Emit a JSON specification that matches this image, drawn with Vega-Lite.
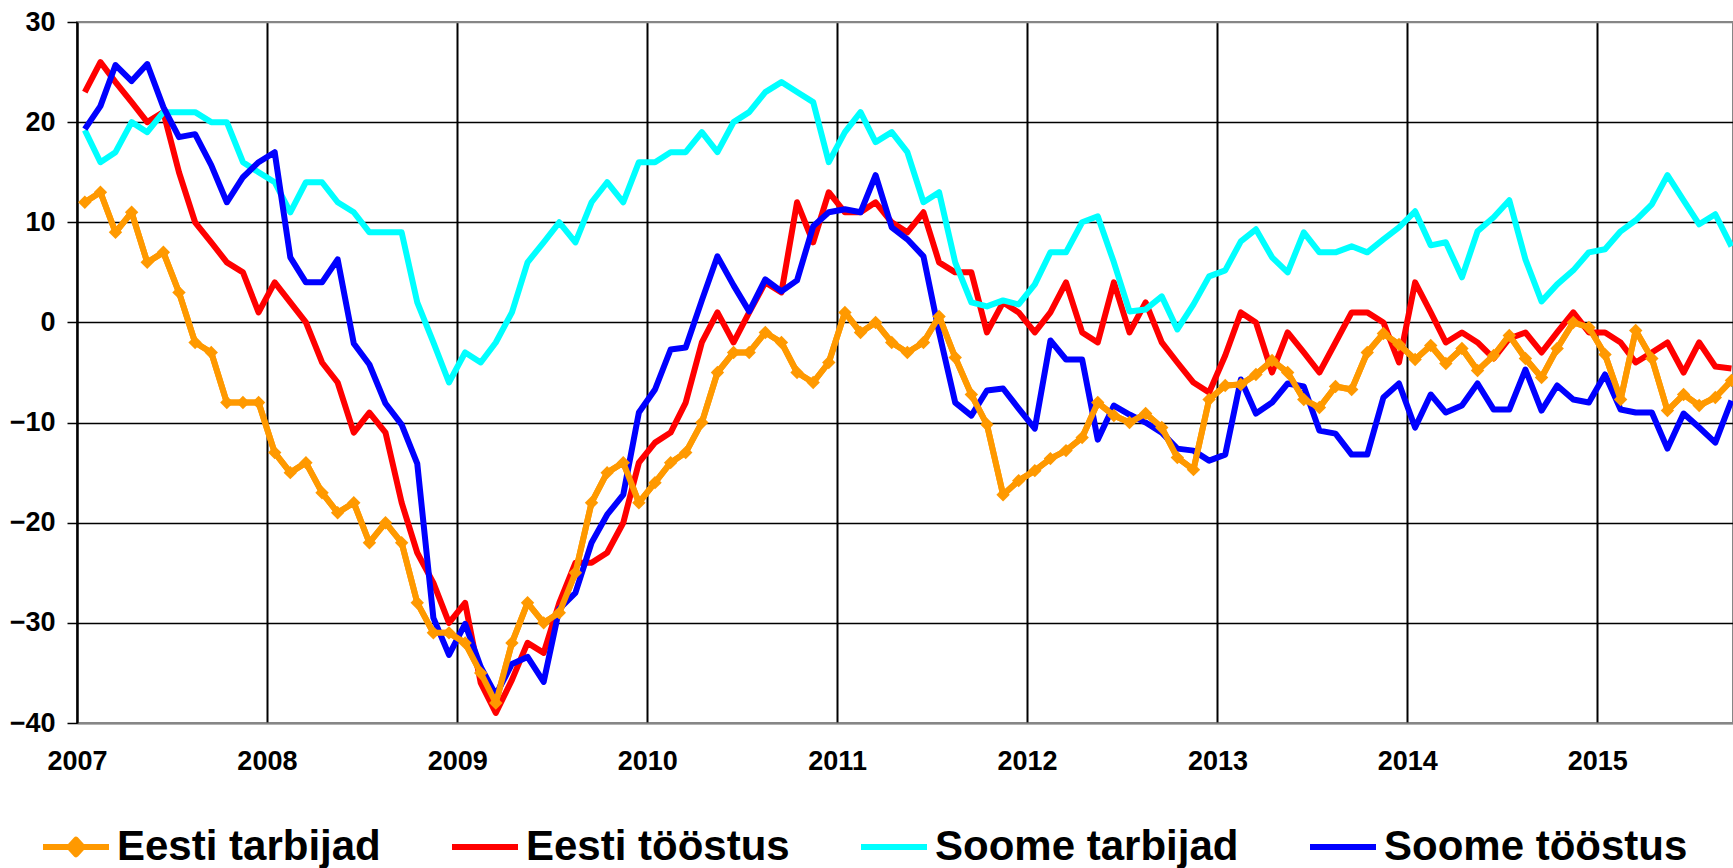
{
  "$schema": "https://vega.github.io/schema/vega-lite/v6.json",
  "width": 1656,
  "height": 701,
  "autosize": {"type": "none"},
  "padding": {"left": 77, "top": 22, "right": 0, "bottom": 145},
  "background": "white",
  "config": {"view": {"stroke": "#868686", "strokeWidth": 2}, "font": "Liberation Sans"},
  "data": {"values": [
    {"d":"2007-01-16","Eesti tarbijad":12,"Eesti tööstus":23,"Soome tarbijad":19.2,"Soome tööstus":19.3},
    {"d":"2007-02-15","Eesti tarbijad":13,"Eesti tööstus":26,"Soome tarbijad":16,"Soome tööstus":21.6},
    {"d":"2007-03-16","Eesti tarbijad":9,"Eesti tööstus":24,"Soome tarbijad":17,"Soome tööstus":25.7},
    {"d":"2007-04-16","Eesti tarbijad":11,"Eesti tööstus":22,"Soome tarbijad":20,"Soome tööstus":24.1},
    {"d":"2007-05-16","Eesti tarbijad":6,"Eesti tööstus":20,"Soome tarbijad":19,"Soome tööstus":25.8},
    {"d":"2007-06-16","Eesti tarbijad":7,"Eesti tööstus":21,"Soome tarbijad":21,"Soome tööstus":21.5},
    {"d":"2007-07-16","Eesti tarbijad":3,"Eesti tööstus":15,"Soome tarbijad":21,"Soome tööstus":18.5},
    {"d":"2007-08-16","Eesti tarbijad":-2,"Eesti tööstus":10,"Soome tarbijad":21,"Soome tööstus":18.8},
    {"d":"2007-09-16","Eesti tarbijad":-3,"Eesti tööstus":8,"Soome tarbijad":20,"Soome tööstus":15.7},
    {"d":"2007-10-16","Eesti tarbijad":-8,"Eesti tööstus":6,"Soome tarbijad":20,"Soome tööstus":12},
    {"d":"2007-11-16","Eesti tarbijad":-8,"Eesti tööstus":5,"Soome tarbijad":16,"Soome tööstus":14.5},
    {"d":"2007-12-16","Eesti tarbijad":-8,"Eesti tööstus":1,"Soome tarbijad":15,"Soome tööstus":16},
    {"d":"2008-01-16","Eesti tarbijad":-13,"Eesti tööstus":4,"Soome tarbijad":14,"Soome tööstus":17},
    {"d":"2008-02-15","Eesti tarbijad":-15,"Eesti tööstus":2,"Soome tarbijad":11,"Soome tööstus":6.5},
    {"d":"2008-03-16","Eesti tarbijad":-14,"Eesti tööstus":0,"Soome tarbijad":14,"Soome tööstus":4},
    {"d":"2008-04-16","Eesti tarbijad":-17,"Eesti tööstus":-4,"Soome tarbijad":14,"Soome tööstus":4},
    {"d":"2008-05-16","Eesti tarbijad":-19,"Eesti tööstus":-6,"Soome tarbijad":12,"Soome tööstus":6.3},
    {"d":"2008-06-16","Eesti tarbijad":-18,"Eesti tööstus":-11,"Soome tarbijad":11,"Soome tööstus":-2.1},
    {"d":"2008-07-16","Eesti tarbijad":-22,"Eesti tööstus":-9,"Soome tarbijad":9,"Soome tööstus":-4.2},
    {"d":"2008-08-16","Eesti tarbijad":-20,"Eesti tööstus":-11,"Soome tarbijad":9,"Soome tööstus":-8.1},
    {"d":"2008-09-16","Eesti tarbijad":-22,"Eesti tööstus":-18,"Soome tarbijad":9,"Soome tööstus":-10.2},
    {"d":"2008-10-16","Eesti tarbijad":-28,"Eesti tööstus":-23,"Soome tarbijad":2,"Soome tööstus":-14.1},
    {"d":"2008-11-16","Eesti tarbijad":-31,"Eesti tööstus":-26,"Soome tarbijad":-2,"Soome tööstus":-29.5},
    {"d":"2008-12-16","Eesti tarbijad":-31,"Eesti tööstus":-30,"Soome tarbijad":-6,"Soome tööstus":-33.2},
    {"d":"2009-01-16","Eesti tarbijad":-32,"Eesti tööstus":-28,"Soome tarbijad":-3,"Soome tööstus":-30.1},
    {"d":"2009-02-15","Eesti tarbijad":-35,"Eesti tööstus":-36,"Soome tarbijad":-4,"Soome tööstus":-34.4},
    {"d":"2009-03-16","Eesti tarbijad":-38,"Eesti tööstus":-39,"Soome tarbijad":-2,"Soome tööstus":-37.2},
    {"d":"2009-04-16","Eesti tarbijad":-32,"Eesti tööstus":-35.7,"Soome tarbijad":1,"Soome tööstus":-34.1},
    {"d":"2009-05-16","Eesti tarbijad":-28,"Eesti tööstus":-32,"Soome tarbijad":6,"Soome tööstus":-33.4},
    {"d":"2009-06-16","Eesti tarbijad":-30,"Eesti tööstus":-33,"Soome tarbijad":8,"Soome tööstus":-35.9},
    {"d":"2009-07-16","Eesti tarbijad":-29,"Eesti tööstus":-28,"Soome tarbijad":10,"Soome tööstus":-28.6},
    {"d":"2009-08-16","Eesti tarbijad":-25,"Eesti tööstus":-24,"Soome tarbijad":8,"Soome tööstus":-27},
    {"d":"2009-09-16","Eesti tarbijad":-18,"Eesti tööstus":-24,"Soome tarbijad":12,"Soome tööstus":-22},
    {"d":"2009-10-16","Eesti tarbijad":-15,"Eesti tööstus":-23,"Soome tarbijad":14,"Soome tööstus":-19.2},
    {"d":"2009-11-16","Eesti tarbijad":-14,"Eesti tööstus":-20,"Soome tarbijad":12,"Soome tööstus":-17.2},
    {"d":"2009-12-16","Eesti tarbijad":-18,"Eesti tööstus":-14,"Soome tarbijad":16,"Soome tööstus":-9},
    {"d":"2010-01-16","Eesti tarbijad":-16,"Eesti tööstus":-12,"Soome tarbijad":16,"Soome tööstus":-6.7},
    {"d":"2010-02-15","Eesti tarbijad":-14,"Eesti tööstus":-11,"Soome tarbijad":17,"Soome tööstus":-2.7},
    {"d":"2010-03-16","Eesti tarbijad":-13,"Eesti tööstus":-8,"Soome tarbijad":17,"Soome tööstus":-2.5},
    {"d":"2010-04-16","Eesti tarbijad":-10,"Eesti tööstus":-2,"Soome tarbijad":19,"Soome tööstus":2.2},
    {"d":"2010-05-16","Eesti tarbijad":-5,"Eesti tööstus":1,"Soome tarbijad":17,"Soome tööstus":6.6},
    {"d":"2010-06-16","Eesti tarbijad":-3,"Eesti tööstus":-2,"Soome tarbijad":20,"Soome tööstus":3.7},
    {"d":"2010-07-16","Eesti tarbijad":-3,"Eesti tööstus":1,"Soome tarbijad":21,"Soome tööstus":1.1},
    {"d":"2010-08-16","Eesti tarbijad":-1,"Eesti tööstus":4,"Soome tarbijad":23,"Soome tööstus":4.3},
    {"d":"2010-09-16","Eesti tarbijad":-2,"Eesti tööstus":3,"Soome tarbijad":24,"Soome tööstus":3.1},
    {"d":"2010-10-16","Eesti tarbijad":-5,"Eesti tööstus":12,"Soome tarbijad":23,"Soome tööstus":4.2},
    {"d":"2010-11-16","Eesti tarbijad":-6,"Eesti tööstus":8,"Soome tarbijad":22,"Soome tööstus":9.6},
    {"d":"2010-12-16","Eesti tarbijad":-4,"Eesti tööstus":13,"Soome tarbijad":16,"Soome tööstus":11},
    {"d":"2011-01-16","Eesti tarbijad":1,"Eesti tööstus":11,"Soome tarbijad":19,"Soome tööstus":11.3},
    {"d":"2011-02-15","Eesti tarbijad":-1,"Eesti tööstus":11,"Soome tarbijad":21,"Soome tööstus":11},
    {"d":"2011-03-16","Eesti tarbijad":0,"Eesti tööstus":12,"Soome tarbijad":18,"Soome tööstus":14.7},
    {"d":"2011-04-16","Eesti tarbijad":-2,"Eesti tööstus":10,"Soome tarbijad":19,"Soome tööstus":9.5},
    {"d":"2011-05-16","Eesti tarbijad":-3,"Eesti tööstus":9,"Soome tarbijad":17,"Soome tööstus":8.3},
    {"d":"2011-06-16","Eesti tarbijad":-2,"Eesti tööstus":11,"Soome tarbijad":12,"Soome tööstus":6.6},
    {"d":"2011-07-16","Eesti tarbijad":0.6,"Eesti tööstus":6,"Soome tarbijad":13,"Soome tööstus":-1},
    {"d":"2011-08-16","Eesti tarbijad":-3.5,"Eesti tööstus":5,"Soome tarbijad":6,"Soome tööstus":-8},
    {"d":"2011-09-16","Eesti tarbijad":-7.2,"Eesti tööstus":5,"Soome tarbijad":2,"Soome tööstus":-9.3},
    {"d":"2011-10-16","Eesti tarbijad":-10.2,"Eesti tööstus":-1,"Soome tarbijad":1.6,"Soome tööstus":-6.8},
    {"d":"2011-11-16","Eesti tarbijad":-17.2,"Eesti tööstus":2,"Soome tarbijad":2.2,"Soome tööstus":-6.6},
    {"d":"2011-12-16","Eesti tarbijad":-15.8,"Eesti tööstus":1,"Soome tarbijad":1.8,"Soome tööstus":-8.6},
    {"d":"2012-01-16","Eesti tarbijad":-14.8,"Eesti tööstus":-1,"Soome tarbijad":3.8,"Soome tööstus":-10.6},
    {"d":"2012-02-15","Eesti tarbijad":-13.6,"Eesti tööstus":1,"Soome tarbijad":7,"Soome tööstus":-1.8},
    {"d":"2012-03-16","Eesti tarbijad":-12.8,"Eesti tööstus":4,"Soome tarbijad":7,"Soome tööstus":-3.7},
    {"d":"2012-04-16","Eesti tarbijad":-11.5,"Eesti tööstus":-1,"Soome tarbijad":10,"Soome tööstus":-3.7},
    {"d":"2012-05-16","Eesti tarbijad":-8,"Eesti tööstus":-2,"Soome tarbijad":10.6,"Soome tööstus":-11.7},
    {"d":"2012-06-16","Eesti tarbijad":-9.3,"Eesti tööstus":4,"Soome tarbijad":6,"Soome tööstus":-8.3},
    {"d":"2012-07-16","Eesti tarbijad":-10,"Eesti tööstus":-1,"Soome tarbijad":1.1,"Soome tööstus":-9.2},
    {"d":"2012-08-16","Eesti tarbijad":-9.1,"Eesti tööstus":2,"Soome tarbijad":1.3,"Soome tööstus":-10},
    {"d":"2012-09-16","Eesti tarbijad":-10.5,"Eesti tööstus":-2,"Soome tarbijad":2.6,"Soome tööstus":-11},
    {"d":"2012-10-16","Eesti tarbijad":-13.5,"Eesti tööstus":-4,"Soome tarbijad":-0.7,"Soome tööstus":-12.6},
    {"d":"2012-11-16","Eesti tarbijad":-14.7,"Eesti tööstus":-6,"Soome tarbijad":1.8,"Soome tööstus":-12.8},
    {"d":"2012-12-16","Eesti tarbijad":-7.7,"Eesti tööstus":-7,"Soome tarbijad":4.6,"Soome tööstus":-13.8},
    {"d":"2013-01-16","Eesti tarbijad":-6.3,"Eesti tööstus":-3.3,"Soome tarbijad":5.2,"Soome tööstus":-13.2},
    {"d":"2013-02-15","Eesti tarbijad":-6.2,"Eesti tööstus":1,"Soome tarbijad":8.1,"Soome tööstus":-5.7},
    {"d":"2013-03-16","Eesti tarbijad":-5.2,"Eesti tööstus":0,"Soome tarbijad":9.3,"Soome tööstus":-9.1},
    {"d":"2013-04-16","Eesti tarbijad":-3.8,"Eesti tööstus":-5,"Soome tarbijad":6.5,"Soome tööstus":-8},
    {"d":"2013-05-16","Eesti tarbijad":-5,"Eesti tööstus":-1,"Soome tarbijad":5,"Soome tööstus":-6.1},
    {"d":"2013-06-16","Eesti tarbijad":-7.7,"Eesti tööstus":-3,"Soome tarbijad":9,"Soome tööstus":-6.4},
    {"d":"2013-07-16","Eesti tarbijad":-8.5,"Eesti tööstus":-5,"Soome tarbijad":7,"Soome tööstus":-10.8},
    {"d":"2013-08-16","Eesti tarbijad":-6.4,"Eesti tööstus":-2,"Soome tarbijad":7,"Soome tööstus":-11.1},
    {"d":"2013-09-16","Eesti tarbijad":-6.7,"Eesti tööstus":1,"Soome tarbijad":7.6,"Soome tööstus":-13.2},
    {"d":"2013-10-16","Eesti tarbijad":-3,"Eesti tööstus":1,"Soome tarbijad":7,"Soome tööstus":-13.2},
    {"d":"2013-11-16","Eesti tarbijad":-1.1,"Eesti tööstus":0,"Soome tarbijad":8.3,"Soome tööstus":-7.5},
    {"d":"2013-12-16","Eesti tarbijad":-2.2,"Eesti tööstus":-4,"Soome tarbijad":9.5,"Soome tööstus":-6.1},
    {"d":"2014-01-16","Eesti tarbijad":-3.7,"Eesti tööstus":4,"Soome tarbijad":11.1,"Soome tööstus":-10.5},
    {"d":"2014-02-15","Eesti tarbijad":-2.3,"Eesti tööstus":1,"Soome tarbijad":7.7,"Soome tööstus":-7.2},
    {"d":"2014-03-16","Eesti tarbijad":-4.1,"Eesti tööstus":-2,"Soome tarbijad":8,"Soome tööstus":-9},
    {"d":"2014-04-16","Eesti tarbijad":-2.6,"Eesti tööstus":-1,"Soome tarbijad":4.5,"Soome tööstus":-8.3},
    {"d":"2014-05-16","Eesti tarbijad":-4.8,"Eesti tööstus":-2,"Soome tarbijad":9.1,"Soome tööstus":-6.1},
    {"d":"2014-06-16","Eesti tarbijad":-3.3,"Eesti tööstus":-3.6,"Soome tarbijad":10.5,"Soome tööstus":-8.7},
    {"d":"2014-07-16","Eesti tarbijad":-1.3,"Eesti tööstus":-1.6,"Soome tarbijad":12.2,"Soome tööstus":-8.7},
    {"d":"2014-08-16","Eesti tarbijad":-3.6,"Eesti tööstus":-1,"Soome tarbijad":6.3,"Soome tööstus":-4.7},
    {"d":"2014-09-16","Eesti tarbijad":-5.5,"Eesti tööstus":-3,"Soome tarbijad":2.1,"Soome tööstus":-8.8},
    {"d":"2014-10-16","Eesti tarbijad":-2.6,"Eesti tööstus":-1,"Soome tarbijad":3.8,"Soome tööstus":-6.3},
    {"d":"2014-11-16","Eesti tarbijad":0,"Eesti tööstus":1,"Soome tarbijad":5.2,"Soome tööstus":-7.7},
    {"d":"2014-12-16","Eesti tarbijad":-0.5,"Eesti tööstus":-1,"Soome tarbijad":7,"Soome tööstus":-8},
    {"d":"2015-01-16","Eesti tarbijad":-3.2,"Eesti tööstus":-1,"Soome tarbijad":7.3,"Soome tööstus":-5.2},
    {"d":"2015-02-15","Eesti tarbijad":-7.7,"Eesti tööstus":-2,"Soome tarbijad":9.1,"Soome tööstus":-8.7},
    {"d":"2015-03-16","Eesti tarbijad":-0.8,"Eesti tööstus":-4,"Soome tarbijad":10.2,"Soome tööstus":-9},
    {"d":"2015-04-16","Eesti tarbijad":-3.6,"Eesti tööstus":-3,"Soome tarbijad":11.8,"Soome tööstus":-9},
    {"d":"2015-05-16","Eesti tarbijad":-8.8,"Eesti tööstus":-2,"Soome tarbijad":14.7,"Soome tööstus":-12.6},
    {"d":"2015-06-16","Eesti tarbijad":-7.2,"Eesti tööstus":-5,"Soome tarbijad":12.2,"Soome tööstus":-9.1},
    {"d":"2015-07-16","Eesti tarbijad":-8.3,"Eesti tööstus":-2,"Soome tarbijad":9.8,"Soome tööstus":-10.5},
    {"d":"2015-08-16","Eesti tarbijad":-7.5,"Eesti tööstus":-4.4,"Soome tarbijad":10.8,"Soome tööstus":-12},
    {"d":"2015-09-16","Eesti tarbijad":-5.8,"Eesti tööstus":-4.6,"Soome tarbijad":7.6,"Soome tööstus":-7.8}
  ]},
  "transform": [
    {"fold": ["Eesti tarbijad", "Eesti tööstus", "Soome tarbijad", "Soome tööstus"], "as": ["series", "value"]}
  ],
  "encoding": {
    "x": {
      "field": "d", "type": "temporal",
      "scale": {"type": "utc", "nice": false, "domain": [{"year": 2007, "month": 1, "date": 1, "utc": true}, {"year": 2015, "month": 9, "date": 19, "utc": true}]},
      "axis": {
        "title": null, "format": "%Y", "tickCount": {"interval": "year", "step": 1},
        "grid": true, "gridColor": "black", "gridWidth": 2,
        "ticks": false, "domainColor": "#868686", "domainWidth": 2,
        "labelFont": "Liberation Sans", "labelFontSize": 27, "labelFontWeight": "bold", "labelColor": "black",
        "labelPadding": 25, "labelDx": 7, "labelFlush": false, "labelOverlap": false, "labelBound": false
      }
    },
    "y": {
      "field": "value", "type": "quantitative",
      "scale": {"domain": [-40, 30], "nice": false, "zero": false},
      "axis": {
        "title": null, "values": [-40, -30, -20, -10, 0, 10, 20, 30],
        "grid": true,
        "gridColor": {"condition": {"test": "datum.value === 30 || datum.value === -40", "value": "#868686"}, "value": "black"},
        "gridWidth": 1.5,
        "domainColor": "black", "domainWidth": 2,
        "tickColor": "black", "tickSize": 10, "tickWidth": 1.5,
        "labelFont": "Liberation Sans", "labelFontSize": 27, "labelFontWeight": "bold", "labelColor": "black",
        "labelPadding": 12
      }
    }
  },
  "layer": [
    {
      "mark": {"type": "line", "strokeWidth": 6, "strokeJoin": "round"},
      "encoding": {
        "color": {
          "field": "series", "type": "nominal",
          "scale": {"domain": ["Eesti tarbijad", "Eesti tööstus", "Soome tarbijad", "Soome tööstus"], "range": ["#FF9900", "#FF0000", "#00FFFF", "#0000FF"]},
          "legend": {
            "orient": "none", "legendX": -37, "legendY": 789, "direction": "horizontal",
            "title": null, "padding": 0, "columnPadding": 68,
            "labelFont": "Liberation Sans", "labelFontSize": 42, "labelFontWeight": "bold", "labelColor": "black",
            "labelLimit": 500, "labelOffset": 5,
            "symbolSize": 4356, "symbolStrokeWidth": 6, "symbolType": "M-1,0H1",
            "encode": {
              "symbols": {
                "update": {
                  "shape": {"signal": "datum.value === 'Eesti tarbijad' ? 'M-1,0H1M-0.2,0L0,-0.22L0.2,0L0,0.22Z' : 'M-1,0H1'"},
                  "fill": {"signal": "scale('color', datum.value)"},
                  "stroke": {"signal": "scale('color', datum.value)"},
                  "strokeWidth": {"value": 6},
                  "strokeJoin": {"value": "round"}
                }
              }
            }
          }
        }
      }
    },
    {
      "transform": [{"filter": "datum.series === 'Eesti tarbijad'"}],
      "mark": {"type": "line", "strokeWidth": 6, "strokeJoin": "round", "color": "#FF9900"},
      "encoding": {}
    },
    {
      "transform": [{"filter": "datum.series === 'Eesti tarbijad'"}],
      "mark": {"type": "point", "shape": "diamond", "filled": true, "size": 180, "color": "#FF9900", "opacity": 1},
      "encoding": {}
    }
  ]
}
